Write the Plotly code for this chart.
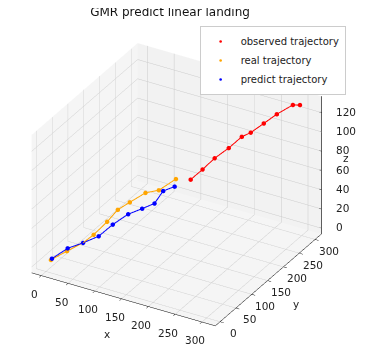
import plotly.graph_objects as go

# observed trajectory (red)
obs_x = [169.7, 183.7, 197.9, 214.4, 229.7, 240.2, 255.5, 270.8, 289.6, 297.9]
obs_y = [169.7, 183.7, 197.9, 214.4, 229.7, 240.2, 255.5, 270.8, 289.6, 297.9]
obs_z = [68.3, 77.1, 87.0, 95.5, 105.3, 108.3, 115.9, 123.6, 130.9, 129.8]

# real trajectory (orange)
real_x = [5.8, 24.6, 43.4, 55.9, 71.7, 84.2, 98.3, 116.7, 132.4, 152.4]
real_y = [5.8, 24.6, 43.4, 55.9, 71.7, 84.2, 98.3, 116.7, 132.4, 152.4]
real_z = [5.3, 12.1, 18.3, 25.2, 36.7, 47.6, 53.6, 61.1, 61.9, 71.0]

# predicted trajectory (blue)
pred_x = [7.0, 25.4, 43.4, 61.8, 78.3, 96.4, 112.8, 127.3, 137.5, 150.9]
pred_y = [7.0, 25.4, 43.4, 61.8, 78.3, 96.4, 112.8, 127.3, 137.5, 150.9]
pred_z = [6.5, 14.9, 18.3, 22.9, 33.0, 41.5, 45.2, 48.8, 60.5, 63.4]

tick_xy = [0, 50, 100, 150, 200, 250, 300]
tick_z = [0, 20, 40, 60, 80, 100, 120]

X_RANGE = [-18, 325]
Y_RANGE = [-15, 320]
Z_RANGE = [-6, 137]
EPS = 0.5

series = [
    ("observed trajectory", obs_x, obs_y, obs_z, "red"),
    ("real trajectory", real_x, real_y, real_z, "orange"),
    ("predict trajectory", pred_x, pred_y, pred_z, "blue"),
]

fig = go.Figure()
for name, xs, ys, zs, col in series:
    fig.add_trace(go.Scatter3d(x=xs, y=ys, z=zs, mode="lines",
                               line=dict(color=col, width=2),
                               showlegend=False, hoverinfo="skip"))
for name, xs, ys, zs, col in series:
    fig.add_trace(go.Scatter3d(x=xs, y=ys, z=zs, mode="markers", name=name,
                               marker=dict(color=col, size=2.6, line=dict(width=0))))

# z axis drawn on the right-hand vertical edge (like matplotlib)
zx, zy = X_RANGE[1], Y_RANGE[1]
fig.add_trace(go.Scatter3d(x=[zx, zx], y=[zy, zy], z=Z_RANGE, mode="lines",
                           line=dict(color="black", width=1.2),
                           showlegend=False, hoverinfo="skip"))
tx, ty, tz = [], [], []
for t in tick_z:
    tx += [zx - 4, zx + 10, None]
    ty += [zy, zy, None]
    tz += [t, t, None]
fig.add_trace(go.Scatter3d(x=tx, y=ty, z=tz, mode="lines",
                           line=dict(color="black", width=1.2),
                           showlegend=False, hoverinfo="skip"))

axis_common = dict(
    showbackground=True, gridcolor="#cbcbcb", gridwidth=1,
    showline=True, linecolor="black", linewidth=1,
    ticks="outside", ticklen=4, tickcolor="black",
    showticklabels=False, title_text="",
    zeroline=False, showspikes=False,
)

font = dict(family="DejaVu Sans", size=10.5, color="#222")
ann = []
xl_y, xl_z = Y_RANGE[0] + EPS, Z_RANGE[0] + EPS
yl_x = X_RANGE[1] - EPS
zl_x, zl_y = X_RANGE[1] - EPS, Y_RANGE[1] - EPS
for t in tick_xy:
    ann.append(dict(x=t, y=xl_y, z=xl_z, text=str(t), showarrow=False,
                    xshift=-7, yshift=-19, font=font))
for t in tick_xy:
    ann.append(dict(x=yl_x, y=t, z=xl_z, text=str(t), showarrow=False,
                    xshift=14, yshift=-12, font=font))
for t in tick_z:
    ann.append(dict(x=zl_x, y=zl_y, z=t, text=str(t), showarrow=False,
                    xanchor="left", xshift=13, yshift=1, font=font))
ann.append(dict(x=150, y=xl_y, z=xl_z, text="x", showarrow=False,
                xshift=-15, yshift=-36, font=font))
ann.append(dict(x=yl_x, y=150, z=xl_z, text="y", showarrow=False,
                xshift=29, yshift=-24, font=font))

S = 1.23
fig.update_layout(
    width=365, height=359,
    margin=dict(l=0, r=0, t=0, b=0),
    paper_bgcolor="white",
    font=dict(family="DejaVu Sans", size=10, color="#222"),
    title=dict(text="GMR predict linear landing", x=0.444, xanchor="center",
               y=1.0, yanchor="top", font=dict(size=12, color="#111")),
    legend=dict(x=0.525, y=0.95, xanchor="left", yanchor="top",
                bgcolor="white", bordercolor="#cccccc", borderwidth=1,
                font=dict(size=10), itemsizing="trace", itemwidth=30,
                tracegroupgap=0),
    annotations=[dict(text="z", xref="paper", yref="paper", x=0.926, y=0.582,
                      xanchor="center", yanchor="middle", showarrow=False,
                      font=font)],
    scene=dict(
        domain=dict(x=[0, 0.923], y=[0.028, 0.988]),
        xaxis=dict(axis_common, range=X_RANGE, tickvals=tick_xy,
                   backgroundcolor="#f5f5f5"),
        yaxis=dict(axis_common, range=Y_RANGE, tickvals=tick_xy,
                   backgroundcolor="#f2f2f2"),
        zaxis=dict(axis_common, range=Z_RANGE, tickvals=tick_z,
                   showline=False, ticks="", backgroundcolor="#f5f5f5"),
        aspectmode="manual", aspectratio=dict(x=S, y=S, z=0.75 * S),
        camera=dict(projection=dict(type="orthographic"),
                    eye=dict(x=0.433 * 1.56, y=-0.75 * 1.56, z=0.5 * 1.56),
                    up=dict(x=0, y=0, z=1), center=dict(x=0, y=0, z=0)),
        annotations=ann,
    ),
)

fig.write_html("out.html")
